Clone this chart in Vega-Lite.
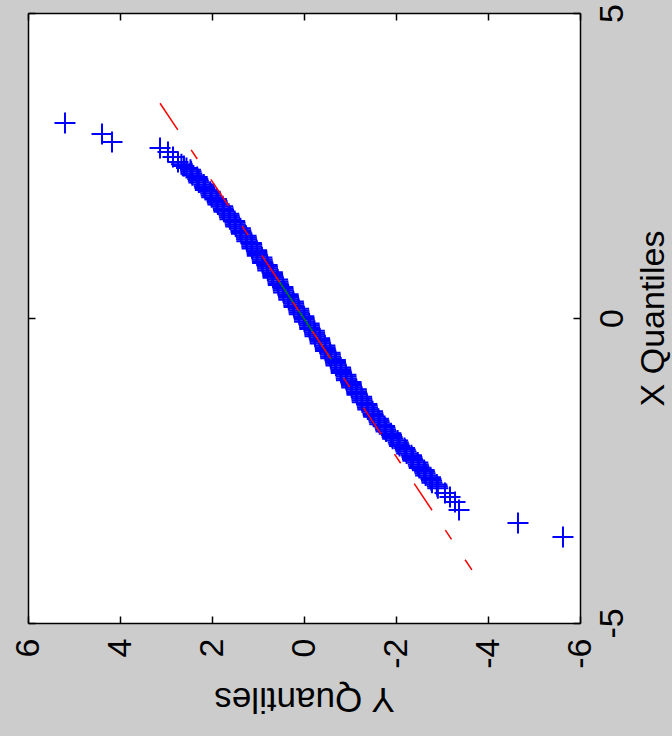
{
  "$schema": "https://vega.github.io/schema/vega-lite/v6.json",
  "width": 552,
  "height": 610,
  "autosize": {"type": "none"},
  "padding": {"left": 28, "top": 13, "right": 92, "bottom": 113},
  "background": "#cccccc",
  "config": {
    "view": {"fill": "#ffffff", "stroke": null},
    "font": "Liberation Sans",
    "axis": {
      "grid": false,
      "domainColor": "#000000",
      "domainWidth": 1.5,
      "tickColor": "#000000",
      "tickWidth": 1.5,
      "tickSize": -7,
      "labelColor": "#000000",
      "labelFont": "Liberation Sans",
      "labelFontSize": 34,
      "labelPadding": 22,
      "labelFlush": false,
      "labelOverlap": false,
      "labelExpr": "replace(datum.label, '\u2212', '-')",
      "titleFont": "Liberation Sans",
      "titleFontSize": 35,
      "titleFontWeight": "normal",
      "titleColor": "#000000"
    }
  },
  "datasets": {
    "samples": [
      {"xq": 3.197, "yq": 5.196}, {"xq": 3.016, "yq": 4.391}, {"xq": 2.885, "yq": 4.174}, {"xq": 2.787, "yq": 3.13},
      {"xq": 2.721, "yq": 2.957}, {"xq": 2.639, "yq": 2.848}, {"xq": 2.557, "yq": 2.739},
      {"xq": 2.52, "yq": 2.665}, {"xq": 2.49, "yq": 2.61}, {"xq": 2.46, "yq": 2.555},
      {"xq": 2.43, "yq": 2.468}, {"xq": 2.4, "yq": 2.454}, {"xq": 2.37, "yq": 2.441}, {"xq": 2.34, "yq": 2.428},
      {"xq": 2.31, "yq": 2.322}, {"xq": 2.28, "yq": 2.309}, {"xq": 2.25, "yq": 2.297}, {"xq": 2.22, "yq": 2.285},
      {"xq": 2.19, "yq": 2.179}, {"xq": 2.16, "yq": 2.167}, {"xq": 2.13, "yq": 2.156}, {"xq": 2.1, "yq": 2.144},
      {"xq": 2.07, "yq": 2.039}, {"xq": 2.04, "yq": 2.028}, {"xq": 2.01, "yq": 2.017}, {"xq": 1.98, "yq": 2.006},
      {"xq": 1.95, "yq": 1.902}, {"xq": 1.92, "yq": 1.891}, {"xq": 1.89, "yq": 1.882}, {"xq": 1.86, "yq": 1.871},
      {"xq": 1.83, "yq": 1.768}, {"xq": 1.8, "yq": 1.758}, {"xq": 1.77, "yq": 1.749}, {"xq": 1.74, "yq": 1.739},
      {"xq": 1.71, "yq": 1.637}, {"xq": 1.68, "yq": 1.627}, {"xq": 1.65, "yq": 1.619}, {"xq": 1.62, "yq": 1.61},
      {"xq": 1.59, "yq": 1.508}, {"xq": 1.56, "yq": 1.5}, {"xq": 1.53, "yq": 1.492}, {"xq": 1.5, "yq": 1.484},
      {"xq": 1.47, "yq": 1.383}, {"xq": 1.44, "yq": 1.375}, {"xq": 1.41, "yq": 1.368}, {"xq": 1.38, "yq": 1.361},
      {"xq": 1.35, "yq": 1.26}, {"xq": 1.32, "yq": 1.253}, {"xq": 1.29, "yq": 1.248}, {"xq": 1.26, "yq": 1.242},
      {"xq": 1.23, "yq": 1.144}, {"xq": 1.2, "yq": 1.138}, {"xq": 1.17, "yq": 1.134}, {"xq": 1.14, "yq": 1.128},
      {"xq": 1.11, "yq": 1.03}, {"xq": 1.08, "yq": 1.024}, {"xq": 1.05, "yq": 1.02}, {"xq": 1.02, "yq": 1.014},
      {"xq": 0.99, "yq": 0.916}, {"xq": 0.96, "yq": 0.91}, {"xq": 0.93, "yq": 0.906}, {"xq": 0.9, "yq": 0.9},
      {"xq": 0.87, "yq": 0.802}, {"xq": 0.84, "yq": 0.796}, {"xq": 0.81, "yq": 0.792}, {"xq": 0.78, "yq": 0.786},
      {"xq": 0.75, "yq": 0.688}, {"xq": 0.72, "yq": 0.682}, {"xq": 0.69, "yq": 0.678}, {"xq": 0.66, "yq": 0.672},
      {"xq": 0.63, "yq": 0.574}, {"xq": 0.6, "yq": 0.568}, {"xq": 0.57, "yq": 0.564}, {"xq": 0.54, "yq": 0.558},
      {"xq": 0.51, "yq": 0.46}, {"xq": 0.48, "yq": 0.454}, {"xq": 0.45, "yq": 0.45}, {"xq": 0.42, "yq": 0.444},
      {"xq": 0.39, "yq": 0.346}, {"xq": 0.36, "yq": 0.34}, {"xq": 0.33, "yq": 0.336}, {"xq": 0.3, "yq": 0.33},
      {"xq": 0.27, "yq": 0.232}, {"xq": 0.24, "yq": 0.226}, {"xq": 0.21, "yq": 0.222}, {"xq": 0.18, "yq": 0.216},
      {"xq": 0.15, "yq": 0.118}, {"xq": 0.12, "yq": 0.112}, {"xq": 0.09, "yq": 0.108}, {"xq": 0.06, "yq": 0.102},
      {"xq": 0.03, "yq": 0.004}, {"xq": 0.0, "yq": -0.002}, {"xq": -0.03, "yq": -0.007}, {"xq": -0.06, "yq": -0.012},
      {"xq": -0.09, "yq": -0.111}, {"xq": -0.12, "yq": -0.116}, {"xq": -0.15, "yq": -0.121}, {"xq": -0.18, "yq": -0.126},
      {"xq": -0.21, "yq": -0.225}, {"xq": -0.24, "yq": -0.23}, {"xq": -0.27, "yq": -0.235}, {"xq": -0.3, "yq": -0.24},
      {"xq": -0.33, "yq": -0.339}, {"xq": -0.36, "yq": -0.344}, {"xq": -0.39, "yq": -0.349}, {"xq": -0.42, "yq": -0.354},
      {"xq": -0.45, "yq": -0.453}, {"xq": -0.48, "yq": -0.458}, {"xq": -0.51, "yq": -0.463}, {"xq": -0.54, "yq": -0.468},
      {"xq": -0.57, "yq": -0.567}, {"xq": -0.6, "yq": -0.572}, {"xq": -0.63, "yq": -0.577}, {"xq": -0.66, "yq": -0.582},
      {"xq": -0.69, "yq": -0.681}, {"xq": -0.72, "yq": -0.686}, {"xq": -0.75, "yq": -0.691}, {"xq": -0.78, "yq": -0.696},
      {"xq": -0.81, "yq": -0.795}, {"xq": -0.84, "yq": -0.8}, {"xq": -0.87, "yq": -0.805}, {"xq": -0.9, "yq": -0.81},
      {"xq": -0.93, "yq": -0.909}, {"xq": -0.96, "yq": -0.914}, {"xq": -0.99, "yq": -0.919}, {"xq": -1.02, "yq": -0.924},
      {"xq": -1.05, "yq": -1.023}, {"xq": -1.08, "yq": -1.028}, {"xq": -1.11, "yq": -1.033}, {"xq": -1.14, "yq": -1.038},
      {"xq": -1.17, "yq": -1.137}, {"xq": -1.2, "yq": -1.142}, {"xq": -1.23, "yq": -1.147}, {"xq": -1.26, "yq": -1.152},
      {"xq": -1.29, "yq": -1.251}, {"xq": -1.32, "yq": -1.256}, {"xq": -1.35, "yq": -1.261}, {"xq": -1.38, "yq": -1.267},
      {"xq": -1.41, "yq": -1.367}, {"xq": -1.44, "yq": -1.374}, {"xq": -1.47, "yq": -1.38}, {"xq": -1.5, "yq": -1.388},
      {"xq": -1.53, "yq": -1.489}, {"xq": -1.56, "yq": -1.498}, {"xq": -1.59, "yq": -1.505}, {"xq": -1.62, "yq": -1.514},
      {"xq": -1.65, "yq": -1.617}, {"xq": -1.68, "yq": -1.627}, {"xq": -1.71, "yq": -1.636}, {"xq": -1.74, "yq": -1.647},
      {"xq": -1.77, "yq": -1.751}, {"xq": -1.8, "yq": -1.762}, {"xq": -1.83, "yq": -1.773}, {"xq": -1.86, "yq": -1.785},
      {"xq": -1.89, "yq": -1.89}, {"xq": -1.92, "yq": -1.903}, {"xq": -1.95, "yq": -1.915}, {"xq": -1.98, "yq": -1.928},
      {"xq": -2.01, "yq": -2.035}, {"xq": -2.04, "yq": -2.05}, {"xq": -2.07, "yq": -2.063}, {"xq": -2.1, "yq": -2.078},
      {"xq": -2.13, "yq": -2.186}, {"xq": -2.16, "yq": -2.202}, {"xq": -2.19, "yq": -2.217}, {"xq": -2.22, "yq": -2.23},
      {"xq": -2.25, "yq": -2.335}, {"xq": -2.28, "yq": -2.346}, {"xq": -2.31, "yq": -2.357}, {"xq": -2.34, "yq": -2.368},
      {"xq": -2.37, "yq": -2.473}, {"xq": -2.4, "yq": -2.484}, {"xq": -2.43, "yq": -2.495}, {"xq": -2.46, "yq": -2.506},
      {"xq": -2.49, "yq": -2.611}, {"xq": -2.52, "yq": -2.622}, {"xq": -2.55, "yq": -2.633}, {"xq": -2.58, "yq": -2.644},
      {"xq": -2.61, "yq": -2.749}, {"xq": -2.64, "yq": -2.76}, {"xq": -2.67, "yq": -2.771}, {"xq": -2.7, "yq": -2.782},
      {"xq": -2.73, "yq": -2.887}, {"xq": -2.76, "yq": -2.898}, {"xq": -2.79, "yq": -2.909},
      {"xq": -2.869, "yq": -3.065}, {"xq": -2.934, "yq": -3.174}, {"xq": -3.016, "yq": -3.283}, {"xq": -3.148, "yq": -3.37},
      {"xq": -3.361, "yq": -4.652}, {"xq": -3.59, "yq": -5.63}
    ],
    "quartileLine": [
      {"xq": 0.674, "yq": 0.606, "o": 1},
      {"xq": -0.674, "yq": -0.588, "o": 2}
    ],
    "extendedLine": [
      {"xq": 3.52, "yq": 3.13, "o": 1},
      {"xq": -4.13, "yq": -3.65, "o": 2}
    ]
  },
  "layer": [
    {
      "data": {"name": "samples"},
      "mark": {"type": "point", "shape": "M-1,0H1M0,-1V1", "filled": false, "stroke": "#0000ff", "strokeWidth": 2, "size": 441, "opacity": 1},
      "encoding": {
        "x": {
          "field": "yq", "type": "quantitative",
          "scale": {"domain": [-6, 6], "reverse": true, "nice": false, "zero": false},
          "axis": {"orient": "bottom", "values": [-6, -4, -2, 0, 2, 4, 6], "labelAngle": 270, "labelAlign": "right", "labelBaseline": "middle", "title": "Y Quantiles", "titleAngle": 180, "titleBaseline": "alphabetic", "titlePadding": 19}
        },
        "y": {
          "field": "xq", "type": "quantitative",
          "scale": {"domain": [-5, 5], "nice": false, "zero": false},
          "axis": {"orient": "right", "values": [-5, 0, 5], "labelAngle": 270, "labelAlign": "center", "labelBaseline": "top", "title": "X Quantiles", "titleAngle": 270, "titleBaseline": "top", "titlePadding": 7, "titleFontSize": 34}
        }
      }
    },
    {
      "data": {"name": "quartileLine"},
      "mark": {"type": "line", "stroke": "#008000", "strokeWidth": 1.5},
      "encoding": {
        "x": {"field": "yq", "type": "quantitative", "scale": {"domain": [-6, 6], "reverse": true, "nice": false, "zero": false},
              "axis": {"orient": "top", "values": [-6, -4, -2, 0, 2, 4, 6], "labels": false, "title": null}},
        "y": {"field": "xq", "type": "quantitative", "scale": {"domain": [-5, 5], "nice": false, "zero": false},
              "axis": {"orient": "left", "values": [-5, 0, 5], "labels": false, "title": null}},
        "order": {"field": "o"}
      }
    },
    {
      "data": {"name": "extendedLine"},
      "mark": {"type": "line", "stroke": "#ff0000", "strokeWidth": 1.5, "strokeDash": [32, 24, 11, 24.5]},
      "encoding": {
        "x": {"field": "yq", "type": "quantitative", "axis": null},
        "y": {"field": "xq", "type": "quantitative", "axis": null},
        "order": {"field": "o"}
      }
    }
  ],
  "resolve": {"axis": {"x": "independent", "y": "independent"}}
}
